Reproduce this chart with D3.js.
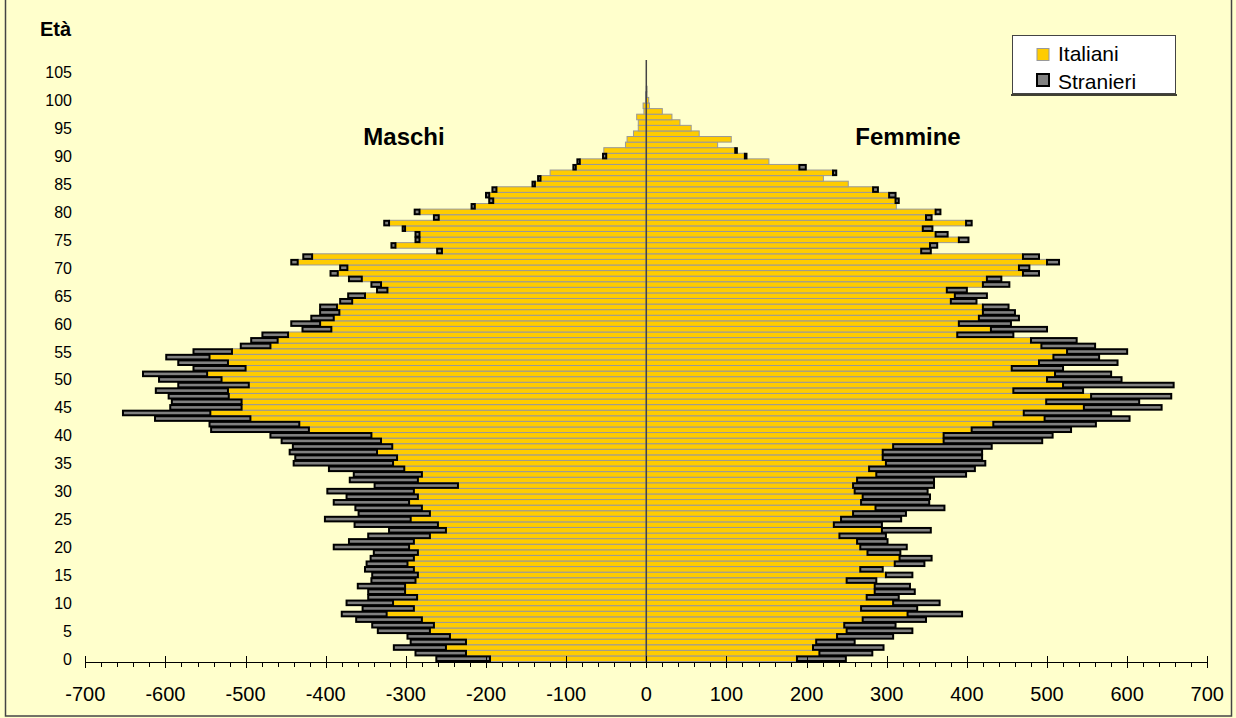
<!DOCTYPE html>
<html>
<head>
<meta charset="utf-8">
<script src="https://cdn.jsdelivr.net/npm/d3@7"></script>
<style>
  html, body { margin: 0; padding: 0; background: #ffffcc; }
  svg { display: block; font-family: Arial, "Liberation Sans", sans-serif; }
</style>
</head>
<body>
<svg id="chart" width="1236" height="718"></svg>
<script>
// ages 0..105, one value per age
var ages = d3.range(0, 106);

var maschiItaliani = [
  195, 225, 250, 225, 245, 270, 265, 280, 324, 290,
  316, 286, 301, 301, 288, 285, 290, 298, 290, 285,
  296, 290, 270, 250, 260, 294, 270, 280, 296, 285,
  290, 235, 285, 280, 302, 316, 311, 336, 317, 331,
  343, 421, 433, 494, 544, 505, 505, 521, 522, 496,
  530, 548, 500, 522, 545, 517, 469, 460, 447, 393,
  407, 390, 383, 386, 367, 351, 323, 331, 355, 385,
  373, 435, 417, 255, 313, 283, 283, 301, 321, 259,
  283, 214, 191, 196, 187, 139, 132, 120, 88, 83,
  50, 53, 26, 24, 16, 10, 10, 12, 3, 4,
  1, 1, 0, 0, 0, 0
];
var maschiStranieri = [
  67, 63, 65, 69, 53, 65, 77, 82, 56, 64,
  58, 61, 46, 59, 55, 57, 61, 51, 54, 55,
  94, 81, 77, 71, 104, 107, 89, 83, 94, 89,
  108, 104, 85, 85, 94, 124, 127, 109, 124, 124,
  126, 122, 112, 119, 109, 89, 87, 75, 90, 88,
  78, 80, 65, 62, 54, 48, 37, 33, 32, 36,
  36, 28, 24, 21, 15, 21, 13, 12, 16, 9,
  9, 8, 11, 6, 5, 5, 5, 3, 6, 6,
  6, 4, 5, 4, 5, 3, 3, 0, 3, 3,
  4, 0, 0, 0, 0, 0, 0, 0, 0, 0,
  0, 0, 0, 0, 0, 0
];
var femmineItaliani = [
  188, 216, 208, 212, 238, 250, 247, 270, 326, 268,
  308, 275, 285, 285, 250, 299, 267, 310, 316, 276,
  267, 263, 241, 294, 234, 243, 258, 286, 268, 270,
  260, 258, 263, 287, 278, 299, 295, 295, 308, 371,
  371, 406, 433, 497, 471, 546, 499, 555, 458, 520,
  500, 510, 456, 490, 508, 525, 493, 480, 388, 430,
  390, 415, 420, 420, 380, 385, 375, 420, 425, 470,
  465, 500, 470, 343, 354, 390, 361, 345, 399, 349,
  361, 312, 311, 303, 283, 252, 221, 233, 191, 153,
  123, 111, 89, 106, 66, 56, 42, 32, 20, 4,
  3, 1, 1, 0, 0, 0
];
var femmineStranieri = [
  61, 66, 88, 48, 70, 82, 64, 79, 68, 70,
  58, 40, 50, 44, 37, 33, 28, 37, 40, 41,
  58, 38, 58, 61, 60, 75, 66, 86, 85, 84,
  91, 101, 96, 112, 132, 124, 124, 124, 123, 123,
  136, 124, 128, 106, 109, 97, 116, 100, 87, 138,
  93, 70, 64, 98, 57, 75, 67, 57, 70, 70,
  65, 50, 40, 32, 32, 40, 25, 33, 18, 20,
  13, 15, 20, 12, 9, 12, 15, 12, 7, 7,
  6, 0, 4, 8, 6, 0, 0, 4, 8, 0,
  2, 2, 0, 0, 0, 0, 0, 0, 0, 0,
  0, 0, 0, 0, 0, 0
];

var xTicks = d3.range(-700, 701, 100);
var ageTicks = d3.range(0, 106, 5);

var svg = d3.select('#chart');

var x = d3.scaleLinear().domain([-700, 700]).range([85.3, 1207.3]);
var y = d3.scaleBand().domain(ages).range([661.5, 69.5]).padding(0);
var bh = y.bandwidth();

// chart frame
svg.append('rect')
  .attr('x', 5.5).attr('y', -5)
  .attr('width', 1226).attr('height', 721)
  .attr('fill', '#ffffcc').attr('stroke', '#444').attr('stroke-width', 1.5);

var rows = ages.map(function (a, i) {
  return {
    age: a,
    mi: maschiItaliani[i], ms: maschiStranieri[i],
    fi: femmineItaliani[i], fs: femmineStranieri[i]
  };
});

var bars = svg.append('g').attr('class', 'bars');

// italiani
bars.selectAll('rect.mi').data(rows.filter(function (d) { return d.mi > 0; }))
  .enter().append('rect').attr('class', 'mi')
  .attr('x', function (d) { return x(-d.mi); })
  .attr('y', function (d) { return y(d.age); })
  .attr('width', function (d) { return x(0) - x(-d.mi); })
  .attr('height', bh)
  .attr('fill', '#ffcc00').attr('stroke', '#999').attr('stroke-width', 1);

bars.selectAll('rect.fi').data(rows.filter(function (d) { return d.fi > 0; }))
  .enter().append('rect').attr('class', 'fi')
  .attr('x', x(0))
  .attr('y', function (d) { return y(d.age); })
  .attr('width', function (d) { return x(d.fi) - x(0); })
  .attr('height', bh)
  .attr('fill', '#ffcc00').attr('stroke', '#999').attr('stroke-width', 1);

// stranieri, stacked outside the italiani
bars.selectAll('rect.ms').data(rows.filter(function (d) { return d.ms > 0; }))
  .enter().append('rect').attr('class', 'ms')
  .attr('x', function (d) { return x(-d.mi - d.ms); })
  .attr('y', function (d) { return y(d.age) + 0.5; })
  .attr('width', function (d) { return x(-d.mi) - x(-d.mi - d.ms); })
  .attr('height', bh - 1)
  .attr('fill', '#808080').attr('stroke', '#000').attr('stroke-width', 2);

bars.selectAll('rect.fs').data(rows.filter(function (d) { return d.fs > 0; }))
  .enter().append('rect').attr('class', 'fs')
  .attr('x', function (d) { return x(d.fi); })
  .attr('y', function (d) { return y(d.age) + 0.5; })
  .attr('width', function (d) { return x(d.fi + d.fs) - x(d.fi); })
  .attr('height', bh - 1)
  .attr('fill', '#808080').attr('stroke', '#000').attr('stroke-width', 2);

// vertical axis at zero
svg.append('line')
  .attr('x1', x(0)).attr('x2', x(0))
  .attr('y1', 60).attr('y2', 662)
  .attr('stroke', '#444').attr('stroke-width', 1.5);

// x axis
var axis = svg.append('g').attr('class', 'x-axis');
axis.append('line')
  .attr('x1', x(-700)).attr('x2', x(700))
  .attr('y1', 662.5).attr('y2', 662.5)
  .attr('stroke', '#000');
axis.selectAll('line.minor').data(d3.range(-700, 701, 20))
  .enter().append('line').attr('class', 'minor')
  .attr('x1', function (d) { return Math.round(x(d)) + 0.5; })
  .attr('x2', function (d) { return Math.round(x(d)) + 0.5; })
  .attr('y1', 662).attr('y2', 667)
  .attr('stroke', '#000');
axis.selectAll('line.major').data(xTicks)
  .enter().append('line').attr('class', 'major')
  .attr('x1', function (d) { return Math.round(x(d)) + 0.5; })
  .attr('x2', function (d) { return Math.round(x(d)) + 0.5; })
  .attr('y1', 656).attr('y2', 668)
  .attr('stroke', '#000');
axis.selectAll('text').data(xTicks)
  .enter().append('text')
  .attr('x', function (d) { return x(d); })
  .attr('y', 701)
  .attr('text-anchor', 'middle')
  .attr('font-size', 20)
  .text(function (d) { return d; });

// age labels
svg.append('g').selectAll('text').data(ageTicks)
  .enter().append('text')
  .attr('x', 72)
  .attr('y', function (d) { return y(d) + bh / 2 + 6; })
  .attr('text-anchor', 'end')
  .attr('font-size', 16)
  .text(function (d) { return d; });

svg.append('text')
  .attr('x', 40).attr('y', 36)
  .attr('font-size', 20).attr('font-weight', 'bold')
  .text('Età');

svg.append('text')
  .attr('x', 404).attr('y', 145)
  .attr('text-anchor', 'middle')
  .attr('font-size', 24).attr('font-weight', 'bold')
  .text('Maschi');

svg.append('text')
  .attr('x', 908).attr('y', 145)
  .attr('text-anchor', 'middle')
  .attr('font-size', 24).attr('font-weight', 'bold')
  .text('Femmine');

// legend
var legend = svg.append('g').attr('class', 'legend');
legend.append('line')
  .attr('x1', 1011).attr('x2', 1177)
  .attr('y1', 95).attr('y2', 95)
  .attr('stroke', '#000').attr('stroke-width', 1.5);
legend.append('rect')
  .attr('x', 1012.5).attr('y', 35.5)
  .attr('width', 163).attr('height', 58)
  .attr('fill', '#fff').attr('stroke', '#444');
legend.append('rect')
  .attr('x', 1037).attr('y', 48.5)
  .attr('width', 12).attr('height', 12)
  .attr('fill', '#ffcc00').attr('stroke', '#999');
legend.append('rect')
  .attr('x', 1037).attr('y', 74)
  .attr('width', 12).attr('height', 12)
  .attr('fill', '#808080').attr('stroke', '#000').attr('stroke-width', 2);
legend.append('text')
  .attr('x', 1058).attr('y', 61)
  .attr('font-size', 21)
  .text('Italiani');
legend.append('text')
  .attr('x', 1058).attr('y', 89)
  .attr('font-size', 21)
  .text('Stranieri');
</script>
</body>
</html>
